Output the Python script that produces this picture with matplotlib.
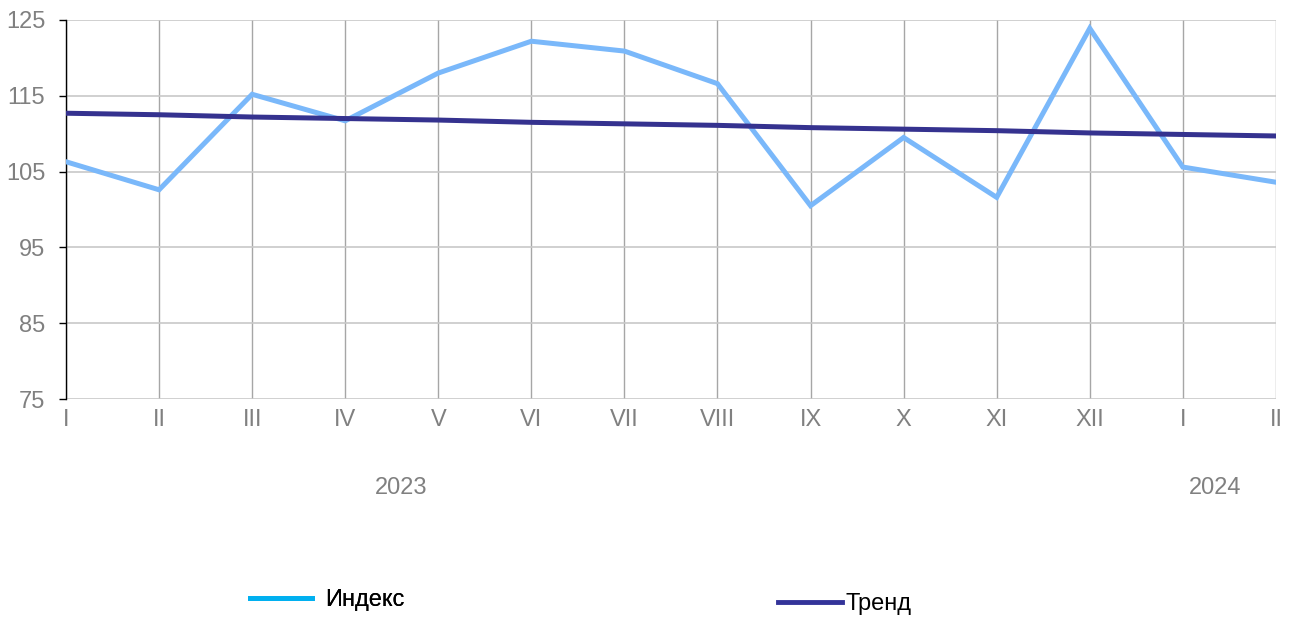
import matplotlib
matplotlib.use("Agg")
import matplotlib.pyplot as plt
from matplotlib.lines import Line2D

# month labels (Jan 2023 .. Feb 2024)
months = ["I", "II", "III", "IV", "V", "VI", "VII", "VIII", "IX", "X", "XI", "XII", "I", "II"]
index_values = [106.3, 102.6, 115.2, 111.7, 118.0, 122.2, 120.9, 116.6,
                100.5, 109.5, 101.6, 123.9, 105.6, 103.6]
trend_values = [112.7, 112.5, 112.2, 112.0, 111.8, 111.5, 111.3, 111.1,
                110.8, 110.6, 110.4, 110.1, 109.9, 109.7]
years = ["2023", "2024"]
year_positions = [3.6, 12.35]
y_ticks = [75, 85, 95, 105, 115, 125]

plt.rcParams['font.family'] = ['Liberation Sans', 'DejaVu Sans']

fig = plt.figure(figsize=(12.94, 6.19), dpi=100)
ax = fig.add_axes([0.051, 0.3554, 0.935, 0.6123])

x = list(range(len(months)))
ax.plot(x, index_values, color="#7ab8fa", linewidth=3.6, solid_joinstyle="miter", zorder=3)
ax.plot(x, trend_values, color="#35328f", linewidth=3.6, zorder=4)

ax.set_xlim(0, len(months) - 1)
ax.set_ylim(75, 125)
ax.set_yticks(y_ticks)
ax.set_xticks(x)
ax.set_xticklabels(months)

ax.grid(True, axis="y", color="#c8c8c8", linewidth=1.2)
ax.grid(True, axis="x", color="#a6a6a6", linewidth=1.0)
ax.set_axisbelow(True)

for side in ["top", "right", "bottom"]:
    ax.spines[side].set_visible(False)
ax.spines["left"].set_color("#000000")
ax.spines["left"].set_linewidth(1.0)

ax.tick_params(axis="y", colors="#000000", labelcolor="#808080", labelsize=17,
               length=5, width=1, direction="out", pad=10)
ax.tick_params(axis="x", labelcolor="#808080", labelsize=17, length=0, pad=7)

for year, pos in zip(years, year_positions):
    ax.text(pos, -0.235, year, transform=ax.get_xaxis_transform(),
            ha="center", va="center", fontsize=17, color="#808080")

# legend entries sit far apart, so two separate legends
h_index = Line2D([], [], color="#00b0f0", linewidth=3.5)
h_trend = Line2D([], [], color="#333399", linewidth=3.5)
leg1 = fig.legend([h_index], ["Индекс"], loc="center left",
                  bbox_to_anchor=(0.1932, 0.031), frameon=False, fontsize=17,
                  handlelength=2.63, handletextpad=0.55, borderpad=0, borderaxespad=0)
leg2 = fig.legend([h_trend], ["Тренд"], loc="center left",
                  bbox_to_anchor=(0.6012, 0.024), frameon=False, fontsize=17,
                  handlelength=2.71, handletextpad=0.13, borderpad=0, borderaxespad=0)
fig.add_artist(leg1)

fig.savefig("out.png", dpi=100, facecolor="white")
